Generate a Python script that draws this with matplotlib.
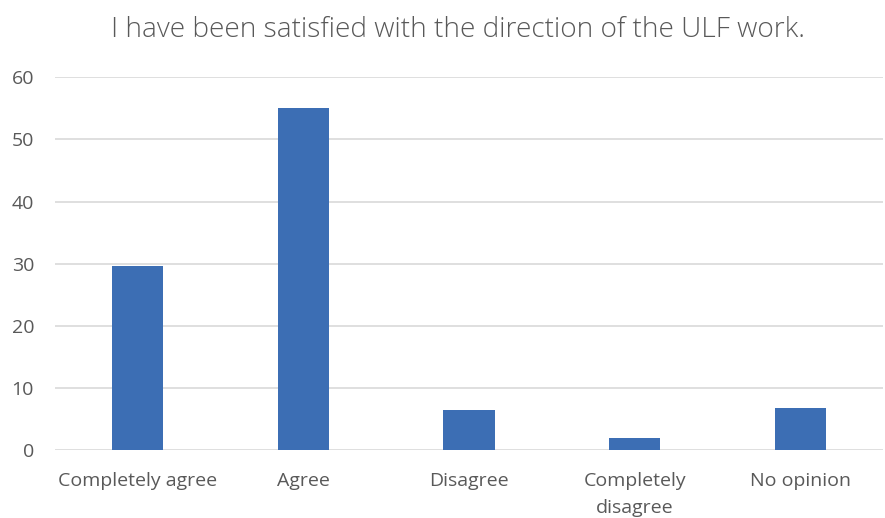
import matplotlib.pyplot as plt

categories = ["Completely agree", "Agree", "Disagree", "Completely\ndisagree", "No opinion"]
values = [29.7, 55.0, 6.4, 1.9, 6.7]
yticks = [0, 10, 20, 30, 40, 50, 60]

gray = "#595959"
plt.rcParams["font.family"] = ["Open Sans", "DejaVu Sans"]

fig = plt.figure(figsize=(8.85, 5.18), dpi=100)
ax = fig.add_axes([0.062, 0.131, 0.936, 0.72])

x = range(len(categories))
ax.bar(x, values, width=0.31, color="#3c6eb4", zorder=3)

ax.set_xlim(-0.5, len(categories) - 0.5)
ax.set_ylim(0, 60)
ax.set_yticks(yticks)
ax.set_xticks(list(x))
ax.set_xticklabels(categories, fontsize=14, color=gray, linespacing=1.65)
ax.tick_params(axis="y", labelsize=14, labelcolor=gray, length=0, pad=15)
ax.tick_params(axis="x", length=0, pad=16)
ax.grid(axis="y", color="#d9d9d9", linewidth=1.2, zorder=0)
for s in ax.spines.values():
    s.set_visible(False)

fig.suptitle("I have been satisfied with the direction of the ULF work.",
             x=0.518, y=0.97, fontsize=20.2, color=gray, fontweight="light")

fig.savefig("out.png", dpi=100)
